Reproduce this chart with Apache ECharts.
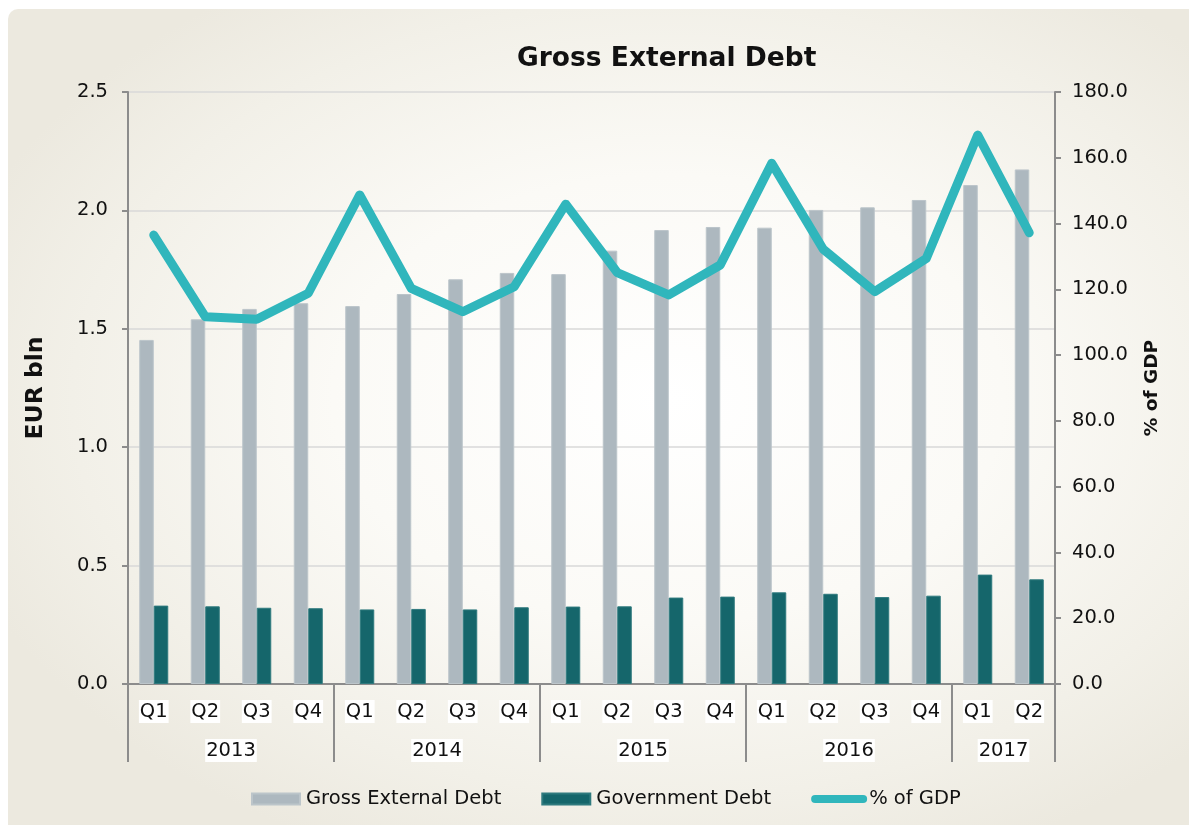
<!DOCTYPE html>
<html>
<head>
<meta charset="utf-8">
<script src="https://cdn.jsdelivr.net/npm/echarts@6/dist/echarts.min.js"></script>
<style>
  html, body { margin: 0; padding: 0; width: 1189px; height: 825px; background: #ffffff; overflow: hidden; }
  #panel { position: absolute; left: 8px; top: 9px; width: 1200px; height: 830px; border-radius: 10px;
    background: radial-gradient(ellipse 62% 60% at 55% 47%, #ffffff 0%, #fbfaf6 45%, #f2f0e8 80%, #ecE9df 100%); }
  #chart { position: absolute; left: 0; top: 0; width: 1189px; height: 825px; }
</style>
</head>
<body>
<div id="panel"></div>
<div id="chart"></div>
<script>
const quarters = ['Q1','Q2','Q3','Q4','Q1','Q2','Q3','Q4','Q1','Q2','Q3','Q4','Q1','Q2','Q3','Q4','Q1','Q2'];
const years = ['2013','2014','2015','2016','2017'];
const quartersPerYear = [4, 4, 4, 4, 2];
const grossExternalDebt = [1.453, 1.540, 1.584, 1.608, 1.596, 1.647, 1.709, 1.736, 1.731, 1.830, 1.917, 1.930, 1.927, 2.002, 2.013, 2.044, 2.107, 2.173];
const governmentDebt = [0.331, 0.328, 0.322, 0.320, 0.315, 0.317, 0.315, 0.324, 0.327, 0.328, 0.365, 0.369, 0.387, 0.381, 0.367, 0.373, 0.462, 0.442];
const pctOfGDP = [136.5, 111.7, 110.9, 118.8, 148.7, 120.3, 113.2, 120.8, 145.9, 125.1, 118.3, 127.4, 158.3, 132.2, 119.3, 129.4, 166.9, 137.2];

// boundary axis for year labels: one point per quarter boundary
const yearAxisData = new Array(quarters.length + 1).fill('');
const yearBoundaries = [0];
let pos = 0;
years.forEach((y, i) => {
  const n = quartersPerYear[i];
  yearAxisData[pos + n / 2] = y;
  pos += n;
  yearBoundaries.push(pos);
});

const FONT = 'DejaVu Sans';
const chart = echarts.init(document.getElementById('chart'), null, { renderer: 'canvas' });
chart.setOption({
  backgroundColor: 'transparent',
  textStyle: { fontFamily: FONT },
  title: {
    text: 'Gross External Debt',
    left: 512, top: 39,
    textStyle: { fontFamily: FONT, fontSize: 26.5, fontWeight: 'bold', color: '#111', lineHeight: 30 }
  },
  legend: {
    left: 246, top: 784,
    itemWidth: 48, itemHeight: 11, itemGap: 40,
    textStyle: { fontFamily: FONT, fontSize: 19.5, color: '#111', padding: [0, 0, 0, 1] },
    data: [
      { name: 'Gross External Debt', icon: 'rect' },
      { name: 'Government Debt', icon: 'rect' },
      { name: '% of GDP', lineStyle: { width: 8, cap: 'round' }, itemStyle: { opacity: 0 } }
    ]
  },
  grid: { left: 128, right: 134, top: 92, bottom: 141 },
  xAxis: [
    {
      type: 'category', data: quarters, position: 'bottom',
      axisLine: { lineStyle: { color: '#8c8c8c', width: 2 } },
      axisTick: { interval: 0, length: 39, lineStyle: { color: '#8c8c8c', width: 2 } },
      axisLabel: { interval: 0, margin: 16, fontFamily: FONT, fontSize: 19.5, color: '#111',
        backgroundColor: '#ffffff', padding: [2, 1, 1, 1] }
    },
    {
      type: 'category', data: yearAxisData, position: 'bottom', offset: 0, boundaryGap: false,
      axisLine: { show: false },
      axisTick: { show: true, length: 78, interval: (i) => yearBoundaries.indexOf(i) >= 0,
        lineStyle: { color: '#8c8c8c', width: 2 } },
      axisLabel: { interval: (i, v) => v !== '', margin: 55, fontFamily: FONT, fontSize: 19.5, color: '#111',
        backgroundColor: '#ffffff', padding: [2, 1, 1, 1] },
      splitLine: { show: false }
    }
  ],
  yAxis: [
    {
      type: 'value', min: 0, max: 2.5, interval: 0.5, position: 'left',
      name: 'EUR bln', nameLocation: 'middle', nameGap: 80,
      nameTextStyle: { fontFamily: FONT, fontSize: 23.5, fontWeight: 'bold', color: '#111' },
      axisLine: { show: true, lineStyle: { color: '#8c8c8c', width: 2 } },
      axisTick: { show: true, length: 6, lineStyle: { color: '#8c8c8c', width: 2 } },
      axisLabel: { margin: 20, fontFamily: FONT, fontSize: 19.5, color: '#111', formatter: v => v.toFixed(1) },
      splitLine: { show: true, lineStyle: { color: '#d9d9d9', width: 1.5 } }
    },
    {
      type: 'value', min: 0, max: 180, interval: 20, position: 'right',
      name: '% of GDP', nameLocation: 'middle', nameGap: 88, nameRotate: 90,
      nameTextStyle: { fontFamily: FONT, fontSize: 18.5, fontWeight: 'bold', color: '#111' },
      axisLine: { show: true, lineStyle: { color: '#8c8c8c', width: 2 } },
      axisTick: { show: true, length: 6, lineStyle: { color: '#8c8c8c', width: 2 } },
      axisLabel: { margin: 17, fontFamily: FONT, fontSize: 19.5, color: '#111', formatter: v => v.toFixed(1) },
      splitLine: { show: false }
    }
  ],
  series: [
    {
      name: 'Gross External Debt', type: 'bar', data: grossExternalDebt,
      xAxisIndex: 0, yAxisIndex: 0, barWidth: 14.5, barGap: '0%',
      itemStyle: { color: '#adb8bf', borderColor: '#bcc5ca', borderWidth: 1 }
    },
    {
      name: 'Government Debt', type: 'bar', data: governmentDebt,
      xAxisIndex: 0, yAxisIndex: 0, barWidth: 14.5, barGap: '0%',
      itemStyle: { color: '#15666b', borderColor: '#2f7a7e', borderWidth: 1 }
    },
    {
      name: '% of GDP', type: 'line', data: pctOfGDP,
      xAxisIndex: 0, yAxisIndex: 1, symbol: 'none', z: 5,
      lineStyle: { color: '#30b6bc', width: 9, cap: 'round', join: 'round' },
      itemStyle: { color: '#30b6bc' }
    }
  ]
});
</script>
</body>
</html>
